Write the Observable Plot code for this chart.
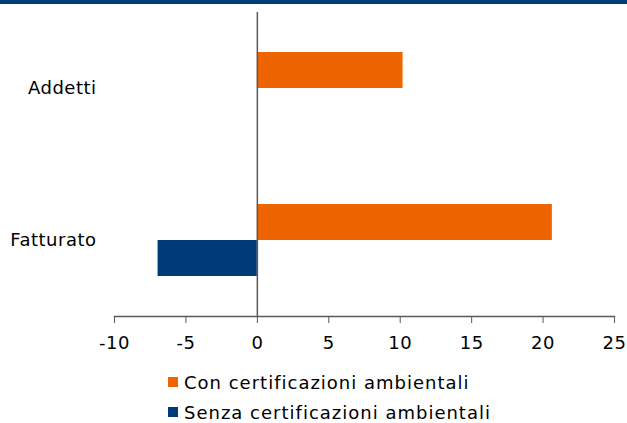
<!DOCTYPE html>
<html><head><meta charset="utf-8">
<script src="https://cdn.jsdelivr.net/npm/d3@7"></script>
<script src="https://cdn.jsdelivr.net/npm/@observablehq/plot@0.6"></script>
<style>
body{margin:0;background:#fff;font-family:"DejaVu Sans",sans-serif;}
#band{height:4px;background:#003B7A;width:627px;}
#legend{margin-left:168px;margin-top:7px;font-size:18px;letter-spacing:1px;color:#000;}
.item{display:flex;align-items:center;height:30px;}
.sw{width:10px;height:10px;margin-right:6px;}
</style></head><body>
<div id="band"></div>
<div id="chart"></div>
<div id="legend"></div>
<script>
const categories = ["Addetti", "Fatturato"];
const seriesNames = ["Con certificazioni ambientali", "Senza certificazioni ambientali"];
const conValues = [10.2, 20.65];
const senzaValues = [0, -6.95];
const xTicks = [-10, -5, 0, 5, 10, 15, 20, 25];
const colors = ["#ED6400", "#003A78"];

const con = categories.map((c, i) => ({cat: c, v: conValues[i]}));
const senza = categories.map((c, i) => ({cat: c, v: senzaValues[i]}));

const plot = Plot.plot({
  width: 627, height: 356,
  marginLeft: 114, marginRight: 13, marginTop: 8, marginBottom: 44,
  style: {fontFamily: "DejaVu Sans, sans-serif", fontSize: "18px", color: "#000", letterSpacing: "0.5px"},
  x: {domain: [-10, 25], ticks: xTicks, tickFormat: d => String(d), tickSize: 7, tickPadding: 13, label: null},
  y: {domain: categories, padding: 0, tickSize: 0, tickPadding: 18, label: null},
  marks: [
    Plot.barX(con, {x: "v", y: "cat", fill: colors[0], insetTop: 58, insetBottom: 58, dy: -18}),
    Plot.barX(senza, {x: "v", y: "cat", fill: colors[1], insetTop: 58, insetBottom: 58, dy: 18}),
    Plot.frame({anchor: "bottom", stroke: "#595959", strokeWidth: 1.5}),
    Plot.ruleX([0], {stroke: "#595959", strokeWidth: 1.5})
  ]
});
plot.querySelectorAll('[aria-label="x-axis tick"]').forEach(e => e.setAttribute("stroke", "#595959"));
document.getElementById("chart").appendChild(plot);

const lg = document.getElementById("legend");
seriesNames.forEach((n, i) => {
  const d = document.createElement("div"); d.className = "item";
  const s = document.createElement("span"); s.className = "sw"; s.style.background = colors[i];
  const t = document.createElement("span"); t.textContent = n;
  d.appendChild(s); d.appendChild(t); lg.appendChild(d);
});
</script></body></html>
